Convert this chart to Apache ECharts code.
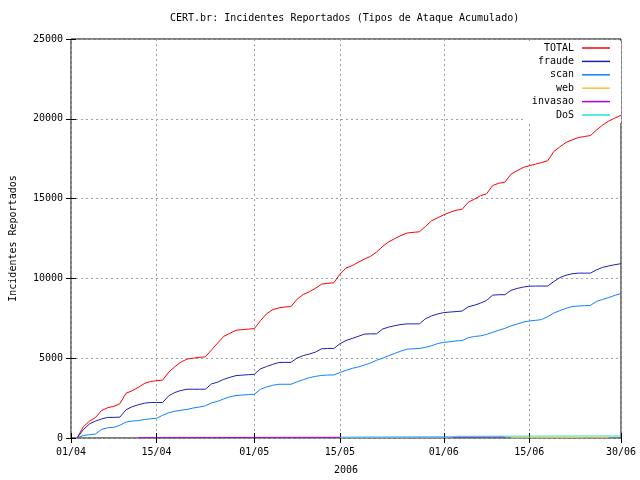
<!DOCTYPE html>
<html><head><meta charset="utf-8">
<script src="https://cdn.jsdelivr.net/npm/echarts@6/dist/echarts.min.js"></script>
<style>html,body{margin:0;padding:0;background:#fff}#c{width:640px;height:480px}</style>
</head><body><div id="c"></div>
<script>
// Tick positions are day offsets from 01/04/2006
const xTickDays = [0, 14, 30, 44, 61, 75, 90];
const xTickLabels = ['01/04', '15/04', '01/05', '15/05', '01/06', '15/06', '30/06'];
const yTickValues = [0, 5000, 10000, 15000, 20000, 25000];
const seriesNames = ['TOTAL', 'fraude', 'scan', 'web', 'invasao', 'DoS'];

// Daily cumulative values, index = day offset from 01/04 (0..90)
const total = [null, 0, 700, 1050, 1280, 1720, 1900, 1980, 2150, 2800, 2960, 3170, 3410, 3540, 3590, 3630, 4130, 4470, 4760, 4945, 5000, 5050, 5090, 5520, 5950, 6370, 6560, 6750, 6790, 6820, 6857, 7350, 7780, 8040, 8150, 8210, 8235, 8700, 8990, 9160, 9380, 9640, 9690, 9725, 10260, 10650, 10800, 11010, 11210, 11380, 11650, 12010, 12290, 12500, 12690, 12845, 12885, 12920, 13250, 13610, 13800, 13980, 14140, 14270, 14330, 14770, 14960, 15180, 15300, 15820, 15960, 16030, 16530, 16750, 16950, 17060, 17160, 17260, 17370, 17950, 18240, 18520, 18680, 18820, 18890, 18950, 19300, 19610, 19860, 20050, 20220];
const fraude = [null, 0, 520, 880, 1060, 1190, 1290, 1290, 1310, 1765, 1960, 2080, 2180, 2225, 2225, 2225, 2650, 2850, 2980, 3055, 3055, 3055, 3060, 3390, 3500, 3680, 3800, 3910, 3940, 3965, 3990, 4330, 4480, 4610, 4730, 4738, 4738, 5020, 5160, 5260, 5380, 5590, 5610, 5610, 5900, 6110, 6234, 6370, 6510, 6527, 6527, 6830, 6950, 7040, 7110, 7150, 7150, 7150, 7470, 7650, 7770, 7860, 7890, 7920, 7955, 8220, 8320, 8450, 8620, 8950, 8977, 8977, 9250, 9370, 9460, 9510, 9520, 9520, 9520, 9800, 10050, 10200, 10290, 10330, 10330, 10330, 10540, 10690, 10780, 10860, 10920];
const scan = [null, 0, 150, 210, 250, 540, 640, 665, 800, 1000, 1060, 1090, 1160, 1200, 1240, 1420, 1580, 1680, 1740, 1790, 1880, 1940, 2020, 2200, 2300, 2450, 2580, 2660, 2690, 2720, 2740, 3050, 3200, 3300, 3366, 3366, 3366, 3520, 3650, 3780, 3860, 3920, 3945, 3950, 4100, 4240, 4364, 4450, 4570, 4700, 4870, 5000, 5160, 5300, 5450, 5567, 5590, 5610, 5680, 5780, 5920, 5990, 6030, 6080, 6110, 6280, 6360, 6400, 6490, 6620, 6750, 6870, 7025, 7140, 7260, 7330, 7370, 7420, 7600, 7830, 7980, 8120, 8240, 8270, 8290, 8310, 8560, 8680, 8800, 8940, 9050];

// Small series: values with the first day offset they start at
const webStart = 72;
const web = [20, 22, 24, 25, 26, 28, 30, 32, 33, 34, 36, 38, 40, 41, 42, 44, 45];
const invasaoStart = 11;
const invasao = [20, 20, 22, 22, 22, 24, 25, 26, 27, 27, 28, 28, 28, 30, 31, 32, 33, 34, 35, 35, 35, 36, 37, 38, 39, 40, 40, 40, 41, 42, 43, 44, 45, 45, 45, 46, 47, 48, 49, 50, 50, 50, 51, 52, 53, 54, 55, 55, 55, 56, 57, 58, 59, 60, 60, 60, 61, 62, 63, 64, 65];
const dosStart = 44;
const dos = [30, 30, 31, 32, 33, 34, 35, 35, 35, 36, 37, 38, 39, 40, 40, 40, 41, 42, 43, 110, 110, 111, 112, 113, 114, 115, 115, 115, 116, 117, 118, 119, 120, 120, 120, 121, 122, 122, 123, 124, 125, 125, 125, 126, 127, 128, 129];

const colors = ['#ff0000', '#2020b0', '#1080ff', '#ffc030', '#b000e0', '#20e0e0'];

function pairs(arr, start) {
  const out = [];
  for (let i = 0; i < arr.length; i++) {
    if (arr[i] !== null) out.push([start + i, arr[i]]);
  }
  return out;
}

const FONT = 'DejaVu Sans Mono';
const txt = { fontFamily: FONT, fontSize: 10, color: '#000' };
const seriesData = [pairs(total, 0), pairs(fraude, 0), pairs(scan, 0), pairs(web, webStart), pairs(invasao, invasaoStart), pairs(dos, dosStart)];

const chart = echarts.init(document.getElementById('c'), null, { renderer: 'canvas' });
chart.setOption({
  animation: false,
  backgroundColor: '#fff',
  title: {
    text: 'CERT.br: Incidentes Reportados (Tipos de Ataque Acumulado)',
    left: 170, top: 13, padding: 0,
    textStyle: Object.assign({ fontWeight: 'normal' }, txt)
  },
  grid: { left: 67, right: 19, top: 39, bottom: 40, show: true, borderColor: '#000', borderWidth: 1, backgroundColor: 'transparent' },
  legend: {
    data: seriesNames, orient: 'vertical', right: 19, top: 41, align: 'right',
    icon: 'rect', itemWidth: 28, itemHeight: 1.5, itemGap: 3.4, selectedMode: false,
    backgroundColor: '#fff', padding: [2, 11, 3, 8], z: 1,
    textStyle: Object.assign({ padding: [0, 3, 0, 0], lineHeight: 10 }, txt)
  },
  xAxis: [{
    type: 'value', min: 0, max: 90, position: 'bottom',
    name: '2006', nameLocation: 'middle', nameGap: 27, nameTextStyle: txt,
    axisLine: { show: false },
    axisTick: { show: true, inside: true, length: 5, customValues: xTickDays, lineStyle: { color: '#000' } },
    axisLabel: Object.assign({ margin: 9, customValues: xTickDays, formatter: function (v) { const i = xTickDays.indexOf(v); return i >= 0 ? xTickLabels[i] : ''; } }, txt),
    splitLine: { show: true, lineStyle: { color: '#a0a0a0', type: [2, 3], width: 1 } }
  }, {
    type: 'value', min: 0, max: 90, position: 'top',
    axisLine: { show: false },
    axisTick: { show: true, inside: true, length: 5, customValues: xTickDays, lineStyle: { color: '#000' } },
    axisLabel: { show: false, customValues: xTickDays },
    splitLine: { show: false }
  }],
  yAxis: [{
    type: 'value', min: 0, max: 25000, interval: 5000,
    name: 'Incidentes Reportados', nameLocation: 'middle', nameGap: 53, nameRotate: 90, nameTextStyle: txt,
    axisLine: { show: false },
    axisTick: { show: true, inside: true, length: 5, lineStyle: { color: '#000' } },
    axisLabel: Object.assign({ margin: 8, customValues: yTickValues, formatter: function (v) { return String(v); } }, txt),
    splitLine: { show: true, lineStyle: { color: '#a0a0a0', type: [2, 3], width: 1 } }
  }, {
    type: 'value', min: 0, max: 25000, interval: 5000, position: 'right',
    axisLine: { show: false },
    axisTick: { show: true, inside: true, length: 5, lineStyle: { color: '#000' } },
    axisLabel: { show: false },
    splitLine: { show: false }
  }],
  series: seriesNames.map(function (n, i) {
    return {
      name: n, type: 'line', xAxisIndex: 0, yAxisIndex: 0,
      data: seriesData[i], symbol: 'none', showSymbol: false,
      color: colors[i], lineStyle: { width: 1, color: colors[i] },
      z: 2, silent: true
    };
  })
});
</script>
</body></html>
